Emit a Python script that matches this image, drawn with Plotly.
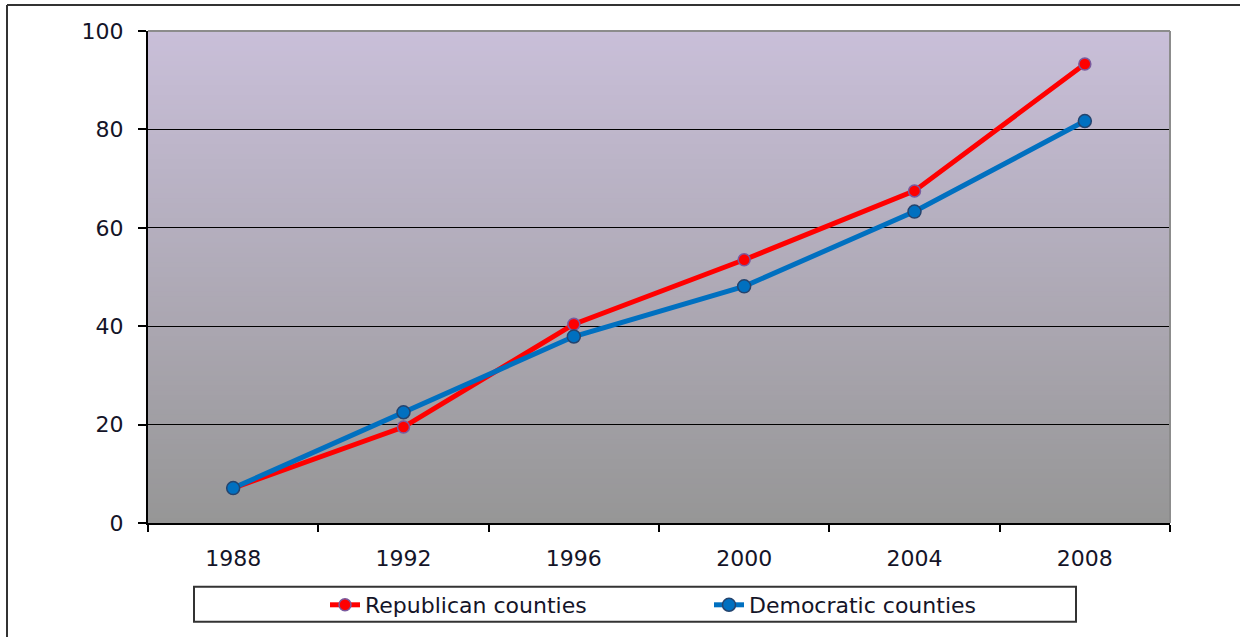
import plotly.graph_objects as go

# Election years and the two county series
years = ["1988", "1992", "1996", "2000", "2004", "2008"]
republican = [7.1, 19.5, 40.4, 53.5, 67.5, 93.3]
democratic = [7.1, 22.5, 37.9, 48.1, 63.3, 81.7]
y_ticks = [0, 20, 40, 60, 80, 100]

W, H = 1240, 637
ML, MR, MT, MB = 148, 70, 31, 113
PW, PH = W - ML - MR, H - MT - MB


def px_x(x):
    return (x - ML) / PW


def px_y(y):
    return (H - MB - y) / PH


FONT = "DejaVu Sans"
TXT = "#141428"

fig = go.Figure()
fig.add_trace(go.Scatter(
    x=years, y=republican, mode="lines+markers", name="Republican counties",
    line=dict(color="#FF0000", width=5),
    marker=dict(size=12, color="#FF0000", line=dict(color="#7A5A9E", width=1.5)),
))
fig.add_trace(go.Scatter(
    x=years, y=democratic, mode="lines+markers", name="Democratic counties",
    line=dict(color="#0070C0", width=5),
    marker=dict(size=13, color="#0070C0", line=dict(color="#24446E", width=1.5)),
))

shapes = []
# vertical gradient fill of the plotting area (lavender at top to grey at bottom)
top_rgb = (201, 191, 217)
bot_rgb = (150, 150, 150)
n = 100
for i in range(n):
    t = (i + 0.5) / n
    c = tuple(round(b + (a - b) * t) for a, b in zip(top_rgb, bot_rgb))
    shapes.append(dict(
        type="rect", xref="x domain", yref="y domain",
        x0=0, x1=1, y0=i / n, y1=(i + 1) / n + 0.002,
        fillcolor="rgb(%d,%d,%d)" % c, line=dict(width=0), layer="below",
    ))
# grey top and right borders of the plotting area
shapes.append(dict(type="line", xref="x domain", yref="y domain", x0=0, x1=1, y0=1, y1=1,
                   line=dict(color="#8C8C8C", width=2), layer="above"))
shapes.append(dict(type="line", xref="x domain", yref="y domain", x0=1, x1=1, y0=0, y1=1,
                   line=dict(color="#8C8C8C", width=2), layer="above"))
# outer chart frame
shapes.append(dict(type="line", xref="paper", yref="paper",
                   x0=px_x(7), x1=px_x(7), y0=px_y(5), y1=px_y(H + 10),
                   line=dict(color="#333333", width=2)))
shapes.append(dict(type="line", xref="paper", yref="paper",
                   x0=px_x(7), x1=px_x(W + 10), y0=px_y(5), y1=px_y(5),
                   line=dict(color="#333333", width=2)))
# legend box
shapes.append(dict(type="rect", xref="paper", yref="paper",
                   x0=px_x(194), x1=px_x(1076), y0=px_y(623), y1=px_y(588),
                   line=dict(color="#333333", width=2), fillcolor="white"))

fig.update_layout(
    width=W, height=H,
    margin=dict(l=ML, r=MR, t=MT, b=MB),
    paper_bgcolor="white",
    plot_bgcolor="#ADA8B5",
    font=dict(family=FONT, size=22, color=TXT),
    shapes=shapes,
    showlegend=True,
    legend=dict(
        orientation="h", x=px_x(325), xanchor="left", y=px_y(605), yanchor="middle",
        bgcolor="rgba(0,0,0,0)", borderwidth=0,
        entrywidth=339, entrywidthmode="pixels",
        font=dict(family=FONT, size=22, color=TXT),
    ),
    xaxis=dict(
        type="category", tickson="boundaries", range=[-0.5, len(years) - 0.5],
        showgrid=False, zeroline=False,
        showline=True, linecolor="black", linewidth=2,
        ticks="outside", ticklen=7, tickwidth=2, tickcolor="black",
        ticklabelstandoff=15,
        tickfont=dict(family=FONT, size=22, color=TXT),
    ),
    yaxis=dict(
        range=[0, 100], tickvals=y_ticks,
        showgrid=True, gridcolor="black", gridwidth=1,
        zeroline=False,
        showline=True, linecolor="black", linewidth=2,
        ticks="outside", ticklen=8, tickwidth=2, tickcolor="black",
        ticklabelstandoff=10,
        tickfont=dict(family=FONT, size=22, color=TXT),
    ),
)

fig.write_html("out.html")
